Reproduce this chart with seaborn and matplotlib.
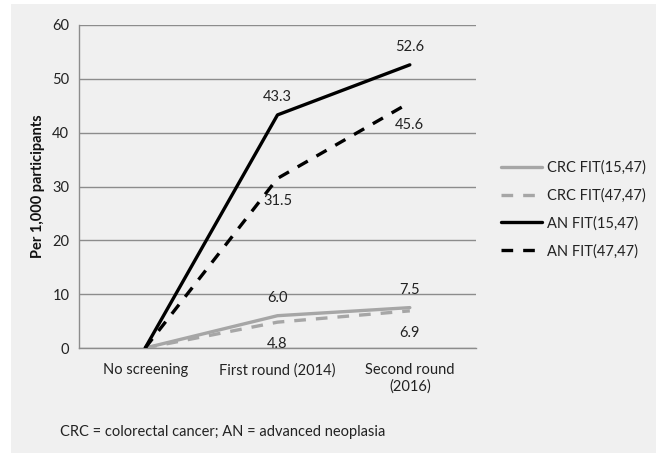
import matplotlib
matplotlib.use("Agg")
import matplotlib.pyplot as plt
from matplotlib.patches import Rectangle
import seaborn as sns
import pandas as pd

categories = ["No screening", "First round (2014)", "Second round\n(2016)"]
series_names = ["CRC FIT(15,47)", "CRC FIT(47,47)", "AN FIT(15,47)", "AN FIT(47,47)"]
crc_15 = [0, 6.0, 7.5]
crc_47 = [0, 4.8, 6.9]
an_15 = [0, 43.3, 52.6]
an_47 = [0, 31.5, 45.6]
y_ticks = [0, 10, 20, 30, 40, 50, 60]

values = [crc_15, crc_47, an_15, an_47]
rows = []
for name, vals in zip(series_names, values):
    for i, v in enumerate(vals):
        rows.append({"x": i, "value": v, "series": name})
df = pd.DataFrame(rows)

sns.set_theme(style="white")
plt.rcParams["font.family"] = ["Lato", "DejaVu Sans"]

BG = "#f0f0f0"
GRAY = "#a6a6a6"
FS = 10.5
fig = plt.figure(figsize=(6.56, 4.53), dpi=100)
fig.patch.set_facecolor("white")
fig.patches.append(Rectangle((11 / 656, 0), 1 - 11 / 656, 1 - 4 / 453,
                             transform=fig.transFigure, facecolor=BG,
                             edgecolor="none", zorder=-10))
ax = fig.add_axes([79 / 656, 1 - 348 / 453, (476 - 79) / 656, (348 - 25) / 453])
ax.set_facecolor(BG)

palette = {series_names[0]: GRAY, series_names[1]: GRAY,
           series_names[2]: "black", series_names[3]: "black"}
dashes = {series_names[0]: "", series_names[1]: (3.5, 3),
          series_names[2]: "", series_names[3]: (3.5, 3)}
sns.lineplot(data=df, x="x", y="value", hue="series", style="series",
             palette=palette, dashes=dashes, linewidth=2.4, ax=ax,
             legend=True, zorder=3)

ax.set_xlim(-0.5, 2.5)
ax.set_ylim(0, 60)
ax.set_yticks(y_ticks)
ax.set_yticklabels([str(t) for t in y_ticks], fontsize=FS, color="#222222")
ax.yaxis.grid(True, color="#8c8c8c", linewidth=1)
ax.tick_params(axis="y", length=3, color="#8c8c8c", width=1, pad=4)
ax.set_xticks([0, 1, 2])
ax.set_xticklabels(categories, fontsize=FS, color="#222222")
ax.set_xticks([-0.5, 0.5, 1.5, 2.5], minor=True)
ax.tick_params(axis="x", which="major", length=0, pad=11)
ax.tick_params(axis="x", which="minor", length=4, color="#8c8c8c", width=1)
for s in ["top", "right"]:
    ax.spines[s].set_visible(False)
for s in ["left", "bottom"]:
    ax.spines[s].set_color("#8c8c8c")
    ax.spines[s].set_linewidth(1)
ax.set_xlabel("")
ax.set_ylabel("Per 1,000 participants", fontsize=FS, fontweight="bold",
              color="#111111", labelpad=5)

# data labels
offsets = {series_names[0]: 13, series_names[1]: -16,
           series_names[2]: 13, series_names[3]: -16}
for name, vals in zip(series_names, values):
    for i, v in enumerate(vals):
        if i == 0:
            continue
        ax.annotate(f"{v:.1f}", (i, v), xytext=(0, offsets[name]),
                    textcoords="offset points", ha="center", va="center",
                    fontsize=FS, color="#222222", zorder=5)

leg = ax.legend(loc="upper left", bbox_to_anchor=(1.063, 0.58), frameon=False,
                fontsize=FS, handlelength=2.8, handletextpad=0.35,
                labelspacing=0.92, borderaxespad=0, borderpad=0)
for t in leg.get_texts():
    t.set_color("#222222")

fig.text(60 / 656, 1 - 432 / 453, "CRC = colorectal cancer; AN = advanced neoplasia",
         fontsize=FS, color="#222222", va="center", ha="left")

fig.savefig("out.png", dpi=100, facecolor=fig.get_facecolor())
